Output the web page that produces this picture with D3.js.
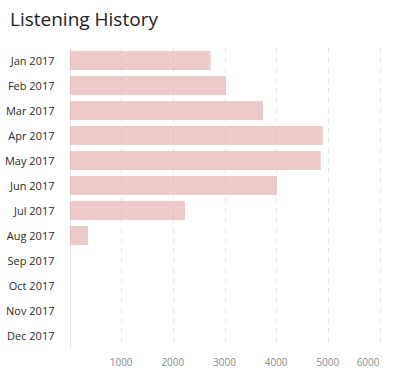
<!DOCTYPE html>
<html>
<head>
<meta charset="utf-8">
<script src="https://cdn.jsdelivr.net/npm/d3@7"></script>
<style>
  body { margin: 0; background: #fff; }
  svg { display: block; }
</style>
</head>
<body>
<script>
const width = 393;
const height = 374;

const months = ["Jan 2017", "Feb 2017", "Mar 2017", "Apr 2017", "May 2017", "Jun 2017",
                "Jul 2017", "Aug 2017", "Sep 2017", "Oct 2017", "Nov 2017", "Dec 2017"];
const plays = [2730, 3030, 3745, 4905, 4865, 4015, 2235, 360, 0, 0, 0, 0];
const xTicks = [0, 1000, 2000, 3000, 4000, 5000, 6000];

const svg = d3.select("body")
    .append("svg")
    .attr("width", width)
    .attr("height", height);

svg.append("text")
    .attr("x", 10)
    .attr("y", 26)
    .attr("font-family", "'Open Sans', sans-serif")
    .attr("font-size", "19px")
    .attr("fill", "#222")
    .text("Listening History");

const x = d3.scaleLinear()
    .domain([0, 6000])
    .range([69.5, 379.5]);

const y = d3.scaleBand()
    .domain(months)
    .range([48, 348])
    .paddingInner(0.24)
    .paddingOuter(0.12);

// grid lines
svg.append("g")
    .selectAll("line")
    .data(xTicks)
    .join("line")
    .attr("x1", d => Math.round(x(d)) + 0.5)
    .attr("x2", d => Math.round(x(d)) + 0.5)
    .attr("y1", 48)
    .attr("y2", 348)
    .attr("stroke", d => d === 0 ? "#e3e3e3" : "#e8e8e8")
    .attr("stroke-dasharray", d => d === 0 ? null : "5,5");

svg.append("g")
    .selectAll("rect")
    .data(plays)
    .join("rect")
    .attr("x", x(0) + 0.5)
    .attr("y", (d, i) => y(months[i]))
    .attr("width", d => Math.max(0, x(d) - x(0) - 0.5))
    .attr("height", y.bandwidth())
    .attr("fill", "#dfa0a0")
    .attr("fill-opacity", 0.55);

// y labels
svg.append("g")
    .selectAll("text")
    .data(months)
    .join("text")
    .attr("x", 54.5)
    .attr("y", d => y(d) + y.bandwidth() / 2 + 4)
    .attr("text-anchor", "end")
    .attr("font-family", "'Open Sans', sans-serif")
    .attr("font-size", "11px")
    .attr("fill", "#2a2a2a")
    .text(d => d);

// x labels
svg.append("g")
    .selectAll("text")
    .data(xTicks.filter(d => d > 0))
    .join("text")
    .attr("x", d => x(d))
    .attr("y", 366)
    .attr("text-anchor", d => d === 6000 ? "end" : "middle")
    .attr("font-family", "'Open Sans', sans-serif")
    .attr("font-size", "10px")
    .attr("fill", "#8a8a8a")
    .text(d => d);
</script>
</body>
</html>
